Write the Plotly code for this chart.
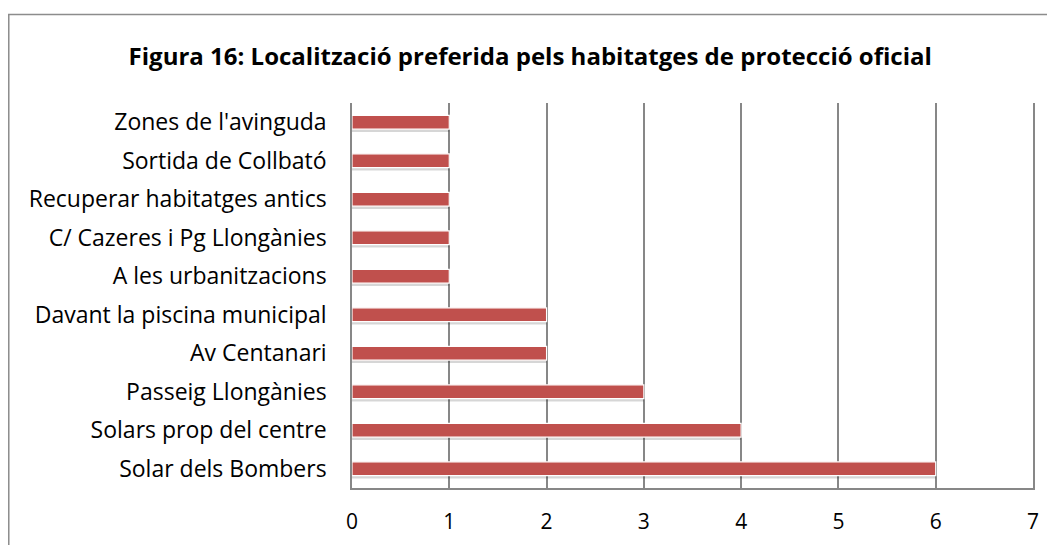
import plotly.graph_objects as go

RED = "#C0504D"
GRID = "#878787"
FONT = "Open Sans, Noto Sans, Arial, sans-serif"

# bottom to top, as drawn
locations = [
    "Solar dels Bombers",
    "Solars prop del centre",
    "Passeig Llongànies",
    "Av Centanari",
    "Davant la piscina municipal",
    "A les urbanitzacions",
    "C/ Cazeres i Pg Llongànies",
    "Recuperar habitatges antics",
    "Sortida de Collbató",
    "Zones de l'avinguda",
]
mentions = [6, 4, 3, 2, 2, 1, 1, 1, 1, 1]
x_ticks = [0, 1, 2, 3, 4, 5, 6, 7]

fig = go.Figure()
# soft drop shadow under each bar
fig.add_bar(
    y=locations, x=mentions, orientation="h",
    width=0.40, offset=-0.25,
    marker={"color": "rgba(0,0,0,0.16)", "line": {"width": 0}},
    hoverinfo="skip", showlegend=False,
)
fig.add_bar(
    y=locations, x=mentions, orientation="h",
    width=0.36, offset=-0.18,
    marker={"color": RED, "line": {"color": "white", "width": 1.2}},
    showlegend=False,
    hovertemplate="%{y}: %{x}<extra></extra>",
)

fig.update_layout(
    width=1055, height=545,
    barmode="overlay",
    paper_bgcolor="white", plot_bgcolor="white",
    margin={"l": 344, "r": 30, "t": 95, "b": 65},
    font={"family": FONT, "color": "black"},
    title={
        "text": "<b>Figura 16: Localització preferida pels habitatges de protecció oficial</b>",
        "x": 0.495, "xanchor": "center", "y": 0.91, "yanchor": "middle",
        "font": {"size": 24, "family": FONT},
    },
    shapes=[{
        "type": "rect", "xref": "paper", "yref": "paper",
        "x0": -0.504, "x1": 1.2, "y0": -0.3, "y1": 1.23,
        "line": {"color": "#8c8c8c", "width": 1.5}, "fillcolor": "rgba(0,0,0,0)",
        "layer": "below",
    }],
)
fig.update_xaxes(
    range=[0, 7], tickvals=x_ticks, showgrid=True, gridcolor=GRID, gridwidth=1.5,
    showline=True, linecolor=GRID, linewidth=1.5, zeroline=False,
    tickfont={"size": 21}, ticks="", ticklabelstandoff=14, fixedrange=True,
)
fig.update_yaxes(
    categoryorder="array", categoryarray=locations, range=[-0.5, 9.5],
    showgrid=False, showline=True, mirror=True, linecolor=GRID, linewidth=1.5,
    tickfont={"size": 23}, ticks="", ticklabelstandoff=19, fixedrange=True,
)

fig.write_html("out.html")
